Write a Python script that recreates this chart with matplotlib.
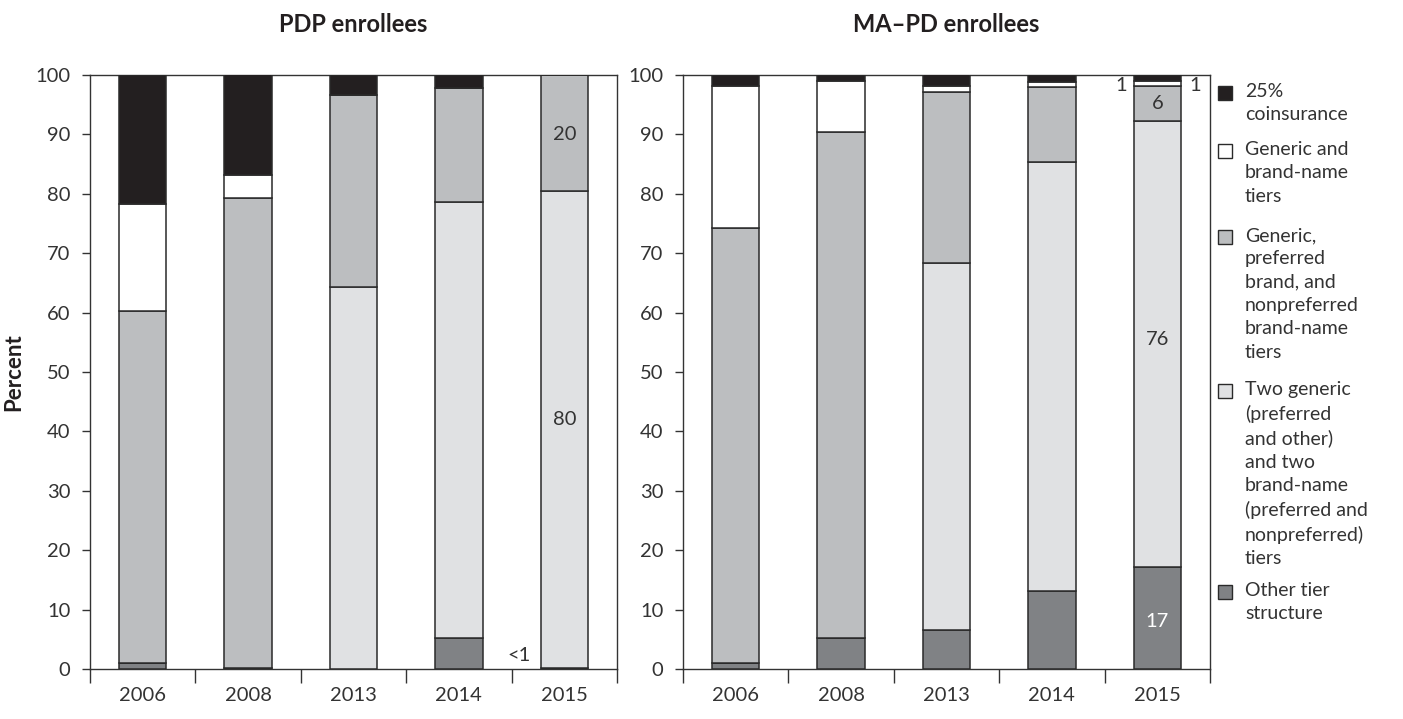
import matplotlib
matplotlib.use("Agg")
import matplotlib.pyplot as plt
from matplotlib.patches import Rectangle
import numpy as np

plt.rcParams['font.family'] = ['Lato', 'DejaVu Sans']

years = ['2006', '2008', '2013', '2014', '2015']

# PDP enrollees (percent)
pdp_other = [1.0, 0.2, 0.0, 5.3, 0.2]
pdp_two_generic = [0.0, 0.0, 64.3, 73.4, 80.2]
pdp_three_tier = [59.3, 79.1, 32.4, 19.1, 19.6]
pdp_generic_brand = [18.0, 3.9, 0.0, 0.0, 0.0]
pdp_coins = [21.7, 17.0, 3.3, 2.2, 0.0]

# MA-PD enrollees (percent)
ma_other = [1.0, 5.2, 6.5, 13.2, 17.2]
ma_two_generic = [0.0, 0.0, 61.9, 72.1, 75.1]
ma_three_tier = [73.3, 85.2, 28.8, 12.7, 5.9]
ma_generic_brand = [23.9, 8.6, 1.0, 0.8, 0.8]
ma_coins = [1.8, 1.0, 2.2, 1.2, 1.0]

legend_labels = [
    "25%\ncoinsurance",
    "Generic and\nbrand-name\ntiers",
    "Generic,\npreferred\nbrand, and\nnonpreferred\nbrand-name\ntiers",
    "Two generic\n(preferred\nand other)\nand two\nbrand-name\n(preferred and\nnonpreferred)\ntiers",
    "Other tier\nstructure",
]

C_COINS = '#231f20'
C_GB = '#ffffff'
C_THREE = '#bcbec0'
C_TWO = '#e0e1e3'
C_OTHER = '#808285'
EDGE = '#2a2a2a'
TXT = '#333333'

fig = plt.figure(figsize=(14.03, 7.19), dpi=100)
W, H = 1403, 719

def fx(px):
    return px / W

def fy(py):
    return 1 - py / H

y0, y1 = fy(669), fy(75)
ax1 = fig.add_axes([fx(90), y0, fx(617) - fx(90), y1 - y0])
ax2 = fig.add_axes([fx(683), y0, fx(1210) - fx(683), y1 - y0])

def draw(ax, other, two, three, gb, coins, title):
    x = np.arange(len(years))
    bw = 0.45
    bottom = np.zeros(len(years))
    for vals, col in [(other, C_OTHER), (two, C_TWO), (three, C_THREE),
                      (gb, C_GB), (coins, C_COINS)]:
        v = np.array(vals)
        ax.bar(x, v, bw, bottom=bottom, color=col, edgecolor=EDGE,
               linewidth=1.1, zorder=3)
        bottom = bottom + v
    ax.set_xlim(-0.5, len(years) - 0.5)
    ax.set_ylim(0, 100)
    ax.set_yticks(np.arange(0, 101, 10))
    ax.set_xticks(np.arange(-0.5, len(years), 1.0))
    ax.set_xticklabels([])
    ax.set_xticks(x, minor=True)
    ax.set_xticklabels(years, minor=True)
    ax.tick_params(axis='x', which='major', direction='out', length=10,
                   width=1.0, color='#333333')
    ax.tick_params(axis='x', which='minor', length=0, pad=13,
                   labelsize=14.5, labelcolor=TXT)
    ax.tick_params(axis='y', direction='out', length=6, width=1.0,
                   color='#333333', pad=8, labelsize=14.5, labelcolor=TXT)
    for s in ax.spines.values():
        s.set_linewidth(1.0)
        s.set_color('#333333')
    ax.set_title(title, fontsize=17, fontweight='bold', color='#231f20',
                 pad=31)

draw(ax1, pdp_other, pdp_two_generic, pdp_three_tier, pdp_generic_brand,
     pdp_coins, "PDP enrollees")
draw(ax2, ma_other, ma_two_generic, ma_three_tier, ma_generic_brand,
     ma_coins, "MA\u2013PD enrollees")

ax1.set_ylabel("Percent", fontsize=16, fontweight='bold', color='#231f20',
               labelpad=8)

# value labels
lab_kw = dict(fontsize=14.5, color=TXT, ha='center', va='center', zorder=5)
ax1.text(4, 90, "20", **lab_kw)
ax1.text(4, 42, "80", **lab_kw)
ax1.text(3.57, 2.3, "<1", **lab_kw)
ax2.text(4, 95.2, "6", **lab_kw)
ax2.text(4, 55.5, "76", **lab_kw)
ax2.text(4, 8, "17", fontsize=14.5, color='white', ha='center', va='center',
         zorder=5)
ax2.text(3.66, 98.2, "1", **lab_kw)
ax2.text(4.36, 98.2, "1", **lab_kw)

# legend (manual)
cols = [C_COINS, C_GB, C_THREE, C_TWO, C_OTHER]
first_line_y = [93, 151, 237, 391, 592]
for lab, col, py in zip(legend_labels, cols, first_line_y):
    fig.add_artist(Rectangle((fx(1218), fy(py + 7)), fx(14), 14 / H,
                             facecolor=col, edgecolor=EDGE, linewidth=1.0,
                             transform=fig.transFigure))
    fig.text(fx(1245), fy(py - 10), lab, fontsize=14, color=TXT,
             ha='left', va='top', linespacing=1.45)

fig.savefig("out.png", dpi=100)
